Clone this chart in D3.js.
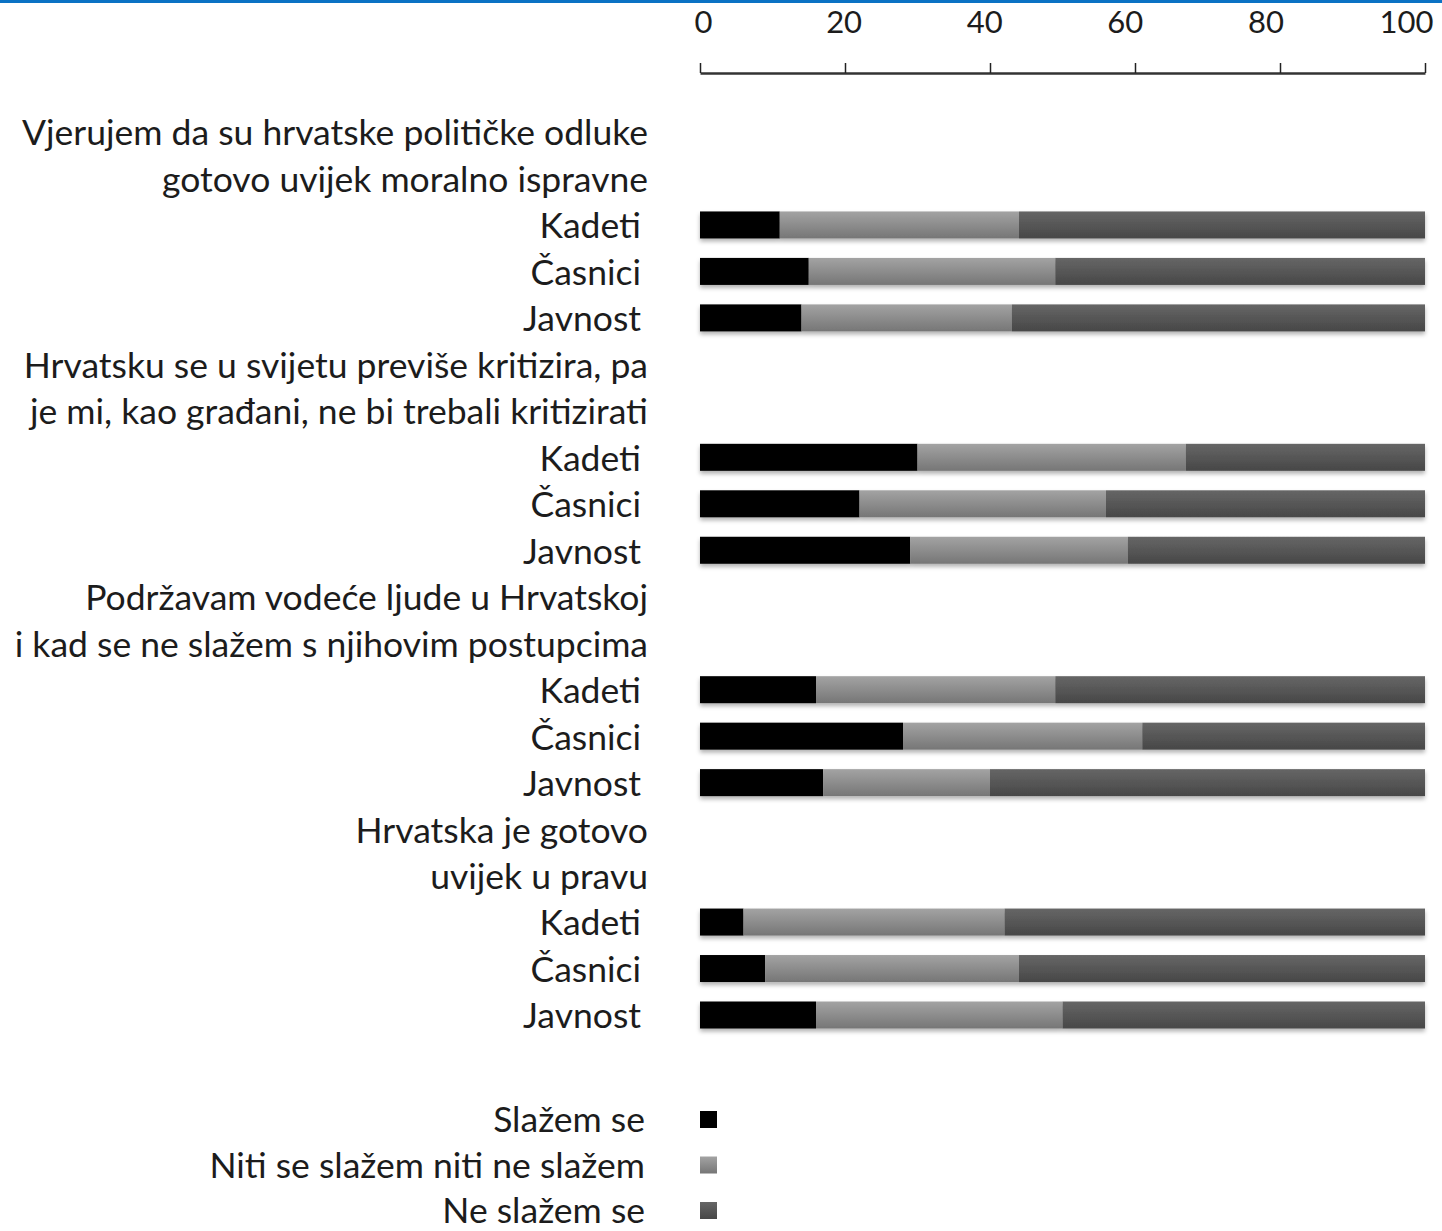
<!DOCTYPE html>
<html>
<head>
<meta charset="utf-8">
<script src="https://cdn.jsdelivr.net/npm/d3@7"></script>
<style>
  body { margin: 0; background: #fff; }
  svg { display: block; font-family: Lato, "Open Sans", sans-serif; }
</style>
</head>
<body>
<div id="main"></div>
<script>
const width = 1442, height = 1231;

// question texts (two lines each)
const questions = [
    ["Vjerujem da su hrvatske političke odluke", "gotovo uvijek moralno ispravne"],
    ["Hrvatsku se u svijetu previše kritizira, pa", "je mi, kao građani, ne bi trebali kritizirati"],
    ["Podržavam vodeće ljude u Hrvatskoj", "i kad se ne slažem s njihovim postupcima"],
    ["Hrvatska je gotovo", "uvijek u pravu"]
];
const groups = ["Kadeti", "Časnici", "Javnost"];

// percentages, per question: [Kadeti, Časnici, Javnost]
const agree    = [[11, 15, 14], [30, 22, 29], [16, 28, 17], [6, 9, 16]];
const neutral  = [[33, 34, 29], [37, 34, 30], [33, 33, 23], [36, 35, 34]];
const disagree = [[56, 51, 57], [33, 44, 41], [51, 39, 60], [58, 56, 50]];

const legendLabels = ["Slažem se", "Niti se slažem niti ne slažem", "Ne slažem se"];
const ticks = [0, 20, 40, 60, 80, 100];

const fontSize = 35.5;
const textColor = "#1c1c1c";

const svg = d3.select("#main").append("svg")
    .attr("width", width)
    .attr("height", height);

// top blue rule
svg.append("rect").attr("x", 0).attr("y", 0).attr("width", width).attr("height", 3).attr("fill", "#0b72c4");

const defs = svg.append("defs");
const grads = [
    {id: "g0", top: "#000", bot: "#000"},
    {id: "g1", top: "#a3a3a3", bot: "#767676"},
    {id: "g2", top: "#666", bot: "#474747"}
];
grads.forEach(g => {
    const lg = defs.append("linearGradient").attr("id", g.id)
        .attr("x1", 0).attr("y1", 0).attr("x2", 0).attr("y2", 1);
    lg.append("stop").attr("offset", "0%").attr("stop-color", g.top);
    lg.append("stop").attr("offset", "100%").attr("stop-color", g.bot);
});
defs.append("filter").attr("id", "shadow")
    .attr("x", "-5%").attr("y", "-30%").attr("width", "110%").attr("height", "180%")
    .append("feDropShadow")
    .attr("dx", 0).attr("dy", 3).attr("stdDeviation", 2)
    .attr("flood-color", "#000").attr("flood-opacity", 0.3);

const x = d3.scaleLinear().domain([0, 100]).range([700, 1425]);
// tick labels sit a bit inside the tick marks in the original
const xLab = d3.scaleLinear().domain([0, 100]).range([703, 1406]);

// axis on top
const axis = svg.append("g")
    .attr("transform", "translate(0,73)")
    .call(d3.axisTop(x).tickValues(ticks).tickSize(10).tickPadding(30).tickSizeOuter(0));
axis.select(".domain").attr("stroke", "#333").attr("stroke-width", 2.5);
axis.selectAll(".tick line").attr("stroke", "#222").attr("stroke-width", 1.5);
axis.selectAll(".tick text")
    .attr("x", d => xLab(d) - x(d))
    .attr("font-size", 31)
    .attr("fill", textColor)
    .attr("font-family", "Lato, sans-serif");

// rows: per question 2 text lines + 3 bars
const rows = [];
questions.forEach((q, qi) => {
    q.forEach((line, li) => rows.push({kind: "q", id: `q${qi}_${li}`, text: line}));
    groups.forEach((g, gi) => rows.push({
        kind: "bar", id: `b${qi}_${gi}`, text: g,
        values: [agree[qi][gi], neutral[qi][gi], disagree[qi][gi]]
    }));
});

const y = d3.scalePoint().domain(rows.map(d => d.id)).range([133, 1016]);
const barH = 27;

svg.append("g").selectAll("text")
    .data(rows)
    .join("text")
    .attr("x", d => d.kind === "q" ? 648 : 641)
    .attr("y", d => y(d.id))
    .attr("dy", "0.35em")
    .attr("text-anchor", "end")
    .attr("font-size", fontSize)
    .attr("fill", textColor)
    .text(d => d.text);

const bars = rows.filter(d => d.kind === "bar");
const seg = svg.append("g").attr("filter", "url(#shadow)").selectAll("g")
    .data(bars)
    .join("g")
    .attr("transform", d => `translate(0,${y(d.id) - barH / 2 - 1})`);

seg.selectAll("rect")
    .data(d => {
        const st = d3.cumsum(d.values);
        return d.values.map((v, i) => ({i, x0: st[i] - v, x1: st[i]}));
    })
    .join("rect")
    .attr("x", d => x(d.x0))
    .attr("width", d => x(d.x1) - x(d.x0))
    .attr("height", barH)
    .attr("fill", d => `url(#g${d.i})`);

// legend
const ly = d3.scalePoint().domain(legendLabels).range([1120, 1211]);
const leg = svg.append("g").selectAll("g")
    .data(legendLabels)
    .join("g")
    .attr("transform", d => `translate(0,${ly(d)})`);
leg.append("text")
    .attr("x", 645)
    .attr("dy", "0.35em")
    .attr("text-anchor", "end")
    .attr("font-size", fontSize)
    .attr("fill", textColor)
    .text(d => d);
leg.append("rect")
    .attr("x", 700).attr("y", -9)
    .attr("width", 17).attr("height", 17)
    .attr("fill", (d, i) => `url(#g${i})`);
</script>
</body>
</html>
